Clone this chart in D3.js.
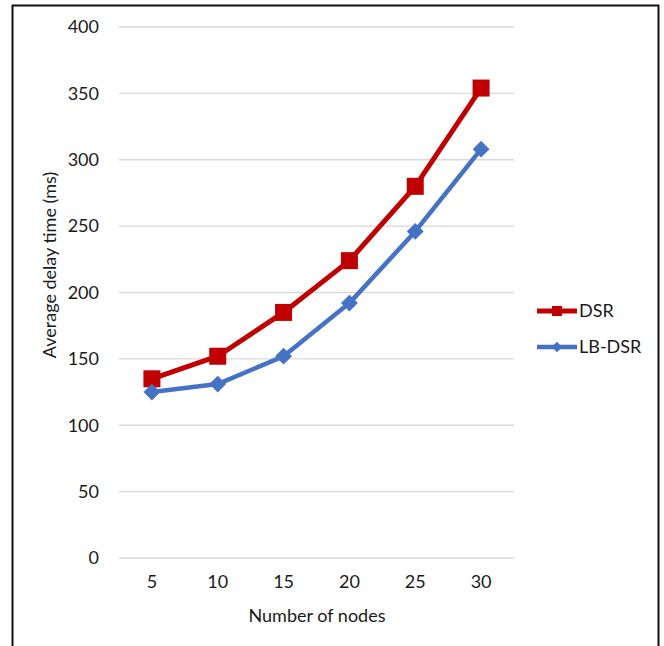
<!DOCTYPE html>
<html>
<head>
<meta charset="utf-8">
<script src="https://cdn.jsdelivr.net/npm/d3@7"></script>
<style>
  html, body { margin: 0; padding: 0; background: #fff; }
  svg { display: block; font-family: Lato, "Open Sans", sans-serif; }
</style>
</head>
<body>
<svg id="chart" width="664" height="646"></svg>
<script>
// Number of nodes in the network
const nodes = [5, 10, 15, 20, 25, 30];
// Average delay time (ms) per protocol
const dsr = [135, 152, 185, 224, 280, 354];
const lbDsr = [125, 131, 152, 192, 246, 308];
const yTicks = [0, 50, 100, 150, 200, 250, 300, 350, 400];
const seriesNames = ["DSR", "LB-DSR"];

const svg = d3.select("#chart");
const FS = 18;
const ink = "#1a1a1a";

// outer frame
svg.append("rect").attr("x", 12.5).attr("y", 5.5).attr("width", 646).attr("height", 660)
  .attr("fill", "#fff").attr("stroke", "#111").attr("stroke-width", 2);

const plot = { left: 119, right: 514, top: 27, bottom: 558 };

const x = d3.scaleBand().domain(nodes).range([plot.left, plot.right]);
const y = d3.scaleLinear().domain([0, 400]).range([plot.bottom, plot.top]);

// horizontal gridlines
svg.append("g").selectAll("line").data(yTicks).join("line")
  .attr("x1", plot.left).attr("x2", plot.right)
  .attr("y1", d => y(d)).attr("y2", d => y(d))
  .attr("stroke", "#d9d9d9").attr("stroke-width", 1.4);

// y axis labels
const yAxis = svg.append("g").attr("transform", `translate(${plot.left - 20},0)`)
  .call(d3.axisLeft(y).tickValues(yTicks).tickSize(0).tickPadding(0));
yAxis.select(".domain").remove();
yAxis.selectAll("text").attr("font-size", FS).attr("fill", ink).attr("font-family", "Lato, sans-serif");

// x axis labels
const xAxis = svg.append("g").attr("transform", `translate(0,${plot.bottom + 17})`)
  .call(d3.axisBottom(x).tickSize(0).tickPadding(0));
xAxis.select(".domain").remove();
xAxis.selectAll("text").attr("font-size", FS).attr("fill", ink).attr("font-family", "Lato, sans-serif")
  .attr("dy", "0.71em");

// axis titles
svg.append("text").attr("x", 317).attr("y", 622).attr("text-anchor", "middle")
  .attr("font-size", FS).attr("fill", ink).text("Number of nodes");
svg.append("text").attr("transform", "translate(56,265) rotate(-90)").attr("text-anchor", "middle")
  .attr("font-size", FS).attr("fill", ink).text("Average delay time (ms)");

const cx = d => x(d) + x.bandwidth() / 2;
const line = d3.line().x((d, i) => cx(nodes[i])).y(d => y(d));

const red = "#C00000", blue = "#4472C4";

// DSR series
svg.append("path").datum(dsr).attr("d", line).attr("fill", "none")
  .attr("stroke", red).attr("stroke-width", 5).attr("stroke-linejoin", "round");
svg.append("g").selectAll("rect").data(dsr).join("rect")
  .attr("x", (d, i) => cx(nodes[i]) - 8.5).attr("y", d => y(d) - 8.5)
  .attr("width", 17).attr("height", 17).attr("fill", red);

// LB-DSR series
svg.append("path").datum(lbDsr).attr("d", line).attr("fill", "none")
  .attr("stroke", blue).attr("stroke-width", 4.5).attr("stroke-linejoin", "round");
svg.append("g").selectAll("path").data(lbDsr).join("path")
  .attr("d", d3.symbol(d3.symbolDiamond2, 180))
  .attr("transform", (d, i) => `translate(${cx(nodes[i])},${y(d)})`)
  .attr("fill", blue);

// legend
const legend = svg.append("g");
const items = [
  { name: seriesNames[0], color: red, w: 5, ly: 311 },
  { name: seriesNames[1], color: blue, w: 4.5, ly: 347 }
];
items.forEach((it, k) => {
  legend.append("line").attr("x1", 537).attr("x2", 577).attr("y1", it.ly).attr("y2", it.ly)
    .attr("stroke", it.color).attr("stroke-width", it.w);
  if (k === 0) {
    legend.append("rect").attr("x", 552).attr("y", it.ly - 5).attr("width", 10).attr("height", 10).attr("fill", it.color);
  } else {
    legend.append("path").attr("d", d3.symbol(d3.symbolDiamond2, 70))
      .attr("transform", `translate(557,${it.ly})`).attr("fill", it.color);
  }
  legend.append("text").attr("x", 579).attr("y", it.ly).attr("dy", "0.35em")
    .attr("font-size", FS).attr("fill", ink).text(it.name);
});
</script>
</body>
</html>
